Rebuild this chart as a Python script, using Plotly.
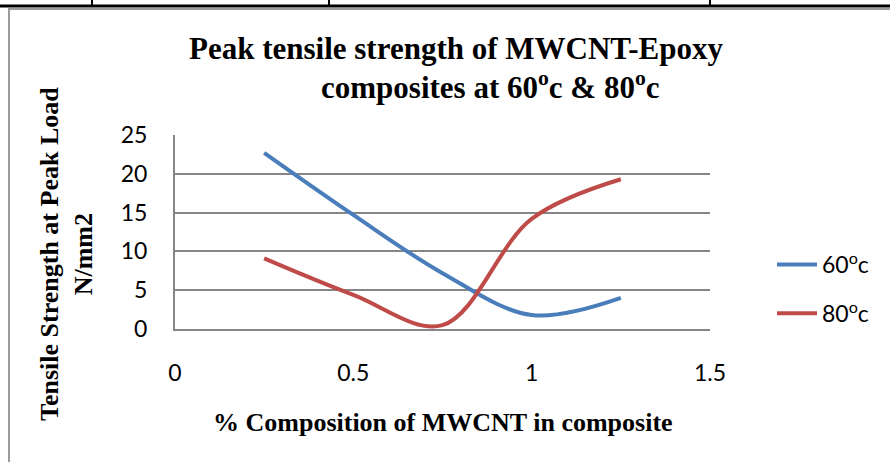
import plotly.graph_objects as go

# ---- data ----
composition = [0.25, 0.5, 0.75, 1.0, 1.25]
strength_60 = [22.7, 14.7, 7.2, 1.8, 4.0]
strength_80 = [9.1, 4.4, 0.5, 14.2, 19.3]
series_names = ["60<sup>o</sup>c", "80<sup>o</sup>c"]
x_ticks = [0, 0.5, 1, 1.5]
x_tick_labels = ["0", "0.5", "1", "1.5"]
y_ticks = [0, 5, 10, 15, 20, 25]

W, H = 890, 462
L, R, T, B = 175, 180, 135, 133
PW, PH = W - L - R, H - T - B


def px(x):
    return (x - L) / PW


def py(y):
    return (H - B - y) / PH


fig = go.Figure()
colors = ["#4A7EBB", "#BE4B48"]
for i, (name, ys) in enumerate(zip(series_names, [strength_60, strength_80])):
    fig.add_trace(go.Scatter(
        x=composition, y=ys, mode="lines", name=name,
        line=dict(color=colors[i], width=4, shape="spline", smoothing=1.0),
        legendgroup=str(i),
    ))

serif = "Liberation Serif, Times New Roman, serif"
sans = "Lato, Carlito, Calibri, sans-serif"

fig.update_layout(
    width=W, height=H,
    margin=dict(l=L, r=R, t=T, b=B, autoexpand=False),
    paper_bgcolor="white", plot_bgcolor="white",
    showlegend=True,
    legend=dict(x=px(772), y=py(289), xanchor="left", yanchor="middle",
                font=dict(family=sans, size=23, color="black"),
                traceorder="grouped", tracegroupgap=16, itemwidth=40,
                bgcolor="rgba(0,0,0,0)"),
    xaxis=dict(range=[0, 1.5], tickvals=x_ticks, ticktext=x_tick_labels,
               showgrid=False, zeroline=False, showline=True,
               linecolor="#868686", linewidth=2,
               ticks="outside", ticklen=22, tickcolor="rgba(0,0,0,0)",
               tickfont=dict(family=sans, size=23, color="black")),
    yaxis=dict(range=[0, 25], tickvals=y_ticks,
               showgrid=True, gridcolor="#868686", gridwidth=2,
               zeroline=False, showline=True,
               linecolor="#868686", linewidth=2,
               ticks="outside", ticklen=21, tickcolor="rgba(0,0,0,0)",
               tickfont=dict(family=sans, size=23, color="black")),
    annotations=[
        dict(text="<b>Peak tensile strength of MWCNT-Epoxy</b>",
             x=px(456), y=py(48), xref="paper", yref="paper",
             showarrow=False, xanchor="center", yanchor="middle",
             font=dict(family=serif, size=31, color="black")),
        dict(text="<b>composites at 60<sup>o</sup>c &amp; 80<sup>o</sup>c</b>",
             x=px(490), y=py(85), xref="paper", yref="paper",
             showarrow=False, xanchor="center", yanchor="middle",
             font=dict(family=serif, size=31, color="black")),
        dict(text="<b>% Composition of MWCNT in composite</b>",
             x=px(443), y=py(422), xref="paper", yref="paper",
             showarrow=False, xanchor="center", yanchor="middle",
             font=dict(family=serif, size=26, color="black")),
        dict(text="<b>Tensile Strength at Peak Load<br>N/mm2</b>",
             x=px(66), y=py(254), xref="paper", yref="paper",
             showarrow=False, xanchor="center", yanchor="middle", textangle=-90,
             font=dict(family=serif, size=26, color="black")),
    ],
    shapes=[
        dict(type="line", xref="paper", yref="paper", x0=px(0), x1=px(W), y0=py(6), y1=py(6),
             line=dict(color="black", width=3)),
        dict(type="line", xref="paper", yref="paper", x0=px(92), x1=px(92), y0=py(0), y1=py(6),
             line=dict(color="black", width=2)),
        dict(type="line", xref="paper", yref="paper", x0=px(329), x1=px(329), y0=py(0), y1=py(6),
             line=dict(color="black", width=2)),
        dict(type="line", xref="paper", yref="paper", x0=px(710), x1=px(710), y0=py(0), y1=py(6),
             line=dict(color="black", width=2)),
        dict(type="line", xref="paper", yref="paper", x0=px(8), x1=px(W), y0=py(9), y1=py(9),
             line=dict(color="#9a9a9a", width=2)),
        dict(type="line", xref="paper", yref="paper", x0=px(9), x1=px(9), y0=py(9), y1=py(H),
             line=dict(color="#9a9a9a", width=2)),
    ],
)

fig.write_html("out.html", config={"displayModeBar": False},
               post_script="document.body.style.margin='0px';")
